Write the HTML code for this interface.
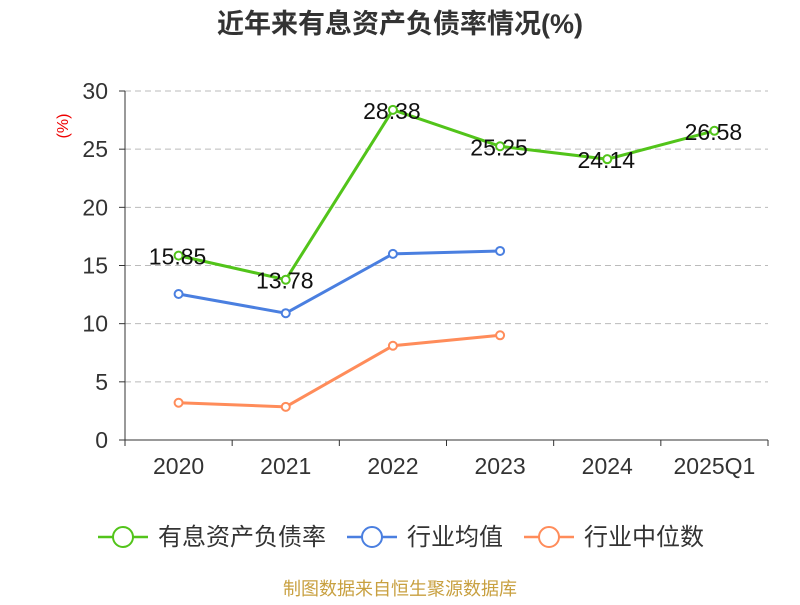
<!DOCTYPE html>
<html><head><meta charset="utf-8"><style>
body{margin:0;background:#fff;}
svg text{font-family:"Liberation Sans","Noto Sans CJK SC",sans-serif;}
</style></head><body>
<svg width="800" height="600" id="chart" xmlns="http://www.w3.org/2000/svg">
<text x="400" y="33" text-anchor="middle" font-size="27" font-weight="bold" fill="#333">近年来有息资产负债率情况(%)</text>
<text x="68" y="126" font-size="16" fill="#e00" transform="rotate(-90 68 126)" text-anchor="middle">(%)</text>
<g id="grid"></g><g id="axes"></g><g id="series"></g>
<g>
<g><line x1="98" y1="537" x2="148" y2="537" stroke="#52c41a" stroke-width="2.5"/><circle cx="123" cy="537" r="10" fill="#fff" stroke="#52c41a" stroke-width="2"/><text x="158" y="545" font-size="24" fill="#333">有息资产负债率</text></g>
<g><line x1="347" y1="537" x2="397" y2="537" stroke="#4a7fe0" stroke-width="2.5"/><circle cx="372" cy="537" r="10" fill="#fff" stroke="#4a7fe0" stroke-width="2"/><text x="407" y="545" font-size="24" fill="#333">行业均值</text></g>
<g><line x1="524" y1="537" x2="574" y2="537" stroke="#ff8c5a" stroke-width="2.5"/><circle cx="549" cy="537" r="10" fill="#fff" stroke="#ff8c5a" stroke-width="2"/><text x="584" y="545" font-size="24" fill="#333">行业中位数</text></g>
</g>
<text x="400" y="595" text-anchor="middle" font-size="18" fill="#c8a040">制图数据来自恒生聚源数据库</text>
</svg>
<script>
const categories=["2020","2021","2022","2023","2024","2025Q1"];
const debtRatio=[15.85,13.78,28.38,25.25,24.14,26.58];
const industryAvg=[12.55,10.9,16.0,16.25];
const industryMedian=[3.2,2.85,8.1,9.0];
const yTicks=[0,5,10,15,20,25,30];
const NS="http://www.w3.org/2000/svg";
const x0=125,x1=768,bw=(x1-x0)/categories.length;
const X=i=>x0+bw*(i+0.5);
const Y=v=>440-v*(349/30);
function mk(tag,attrs,parent){const e=document.createElementNS(NS,tag);for(const k in attrs)e.setAttribute(k,attrs[k]);document.getElementById(parent).appendChild(e);return e;}
yTicks.forEach(t=>{
 if(t>0){const g=mk('line',{x1:x0,x2:x1,y1:Y(t),y2:Y(t),stroke:'#bbb','stroke-dasharray':'6,4'},'grid');
 
 }
 const tk=mk('line',{x1:x0-6,x2:x0,y1:Y(t),y2:Y(t),stroke:'#333'},'axes');
 
 
 const l=mk('text',{x:x0-17,y:Y(t)+8,'text-anchor':'end','font-size':23,fill:'#333'},'axes');l.textContent=t;
 
 
});
const ya=mk('line',{x1:x0,x2:x0,y1:Y(30),y2:440,stroke:'#333'},'axes');


const xa=mk('line',{x1:x0,x2:x1,y1:440,y2:440,stroke:'#333'},'axes');


for(let i=0;i<=categories.length;i++){const t=mk('line',{x1:x0+bw*i,x2:x0+bw*i,y1:440,y2:446,stroke:'#333'},'axes');
 
 }
categories.forEach((c,i)=>{const l=mk('text',{x:X(i),y:474,'text-anchor':'middle','font-size':23,fill:'#333'},'axes');l.textContent=c;
 
 });
function series(vals,color,name,labels){
 const p=mk('polyline',{points:vals.map((v,i)=>X(i)+','+Y(v)).join(' '),fill:'none',stroke:color,'stroke-width':3},'series');
 
 
 vals.forEach((v,i)=>{const c=mk('circle',{cx:X(i),cy:Y(v),r:4,fill:'#fff',stroke:color,'stroke-width':2},'series');
  
  
  if(labels){const t=mk('text',{x:X(i)-1,y:Y(v)+9,'text-anchor':'middle','font-size':23,fill:'#111'},'series');t.textContent=v.toFixed(2);
  
  }
 });
}
series(industryMedian,'#ff8c5a','industry-median',false);
series(industryAvg,'#4a7fe0','industry-avg',false);
series(debtRatio,'#52c41a','debt-ratio',true);
</script>
</body></html>
